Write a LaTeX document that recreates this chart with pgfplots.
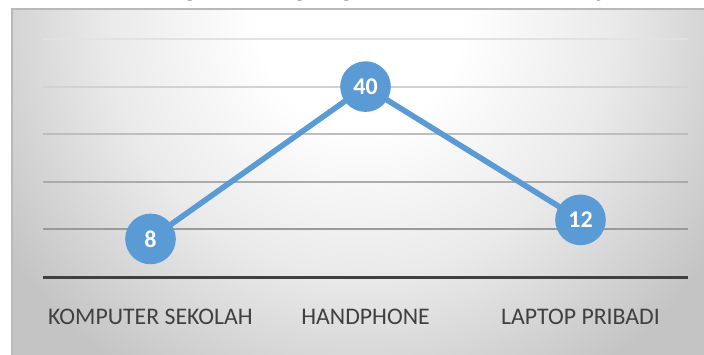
\documentclass[border=0pt]{standalone}
\usepackage{pgfplots}
\pgfplotsset{compat=1.18}
\usepackage{fontspec}
\setmainfont{Carlito}
\definecolor{lineblue}{HTML}{5B9BD5}
\definecolor{labgray}{HTML}{404040}
\definecolor{bgout}{HTML}{C4C4C4}
\definecolor{bgmid}{HTML}{EAEAEA}
\definecolor{gridA}{HTML}{E2E2E2}
\definecolor{gridB}{HTML}{D2D2D2}
\definecolor{gridC}{HTML}{BEBEBE}
\definecolor{gridD}{HTML}{ABABAB}
\definecolor{gridE}{HTML}{9A9A9A}
\pgfdeclareradialshading{bgshade}{\pgfpoint{0bp}{0bp}}{color(0bp)=(white); color(6bp)=(white); color(15bp)=(bgmid); color(25bp)=(bgout); color(50bp)=(bgout)}
\begin{document}
\begin{tikzpicture}[x=0.5pt,y=0.5pt]
\useasboundingbox (0,0) rectangle (704,354);
\clip (0,0) rectangle (704,354);
\node[anchor=base, inner sep=0pt, font=\bfseries\fontsize{15.75}{18}\selectfont] at (370,358) {Perangkat yang digunakan untuk belajar};
\begin{scope}
\clip (12,-10) rectangle (720,345);
\shade[shading=bgshade] (-60,-90) rectangle (780,750);
\end{scope}
\draw[color=gray!55, line width=0.6pt] (12,-10) -- (12,345) -- (720,345);
\begin{axis}[
  at={(21.5pt,38.5pt)}, anchor=south west,
  scale only axis, width=322.5pt, height=119pt,
  xmin=-0.5, xmax=2.5, ymin=0, ymax=50,
  clip=false,
  axis line style={draw=none},
  tick style={draw=none},
  ytick=\empty,
  xtick={0,1,2},
  xticklabels={KOMPUTER SEKOLAH, HANDPHONE, LAPTOP PRIBADI},
  xticklabel style={anchor=base, yshift=-23.5pt, text=labgray, font=\fontsize{11.9}{13}\selectfont},
  /pgf/number format/assume math mode=true,
]
\draw[gridA, line width=1pt] (axis cs:-0.5,50) -- (axis cs:2.5,50);
\draw[gridB, line width=1pt] (axis cs:-0.5,40) -- (axis cs:2.5,40);
\draw[gridC, line width=1pt] (axis cs:-0.5,30) -- (axis cs:2.5,30);
\draw[gridD, line width=1pt] (axis cs:-0.5,20) -- (axis cs:2.5,20);
\draw[gridE, line width=1pt] (axis cs:-0.5,10) -- (axis cs:2.5,10);
\draw[labgray, line width=1.5pt] (axis cs:-0.5,0) -- (axis cs:2.5,0);
\addplot[lineblue, line width=2.8pt, mark=*, mark size=11.25pt,
  mark options={draw=none, fill=lineblue},
  nodes near coords,
  every node near coord/.append style={anchor=center, text=white, font=\bfseries\fontsize{12}{14}\selectfont}]
  coordinates {(0,8) (1,40) (2,12)};
\end{axis}
\end{tikzpicture}
\end{document}
